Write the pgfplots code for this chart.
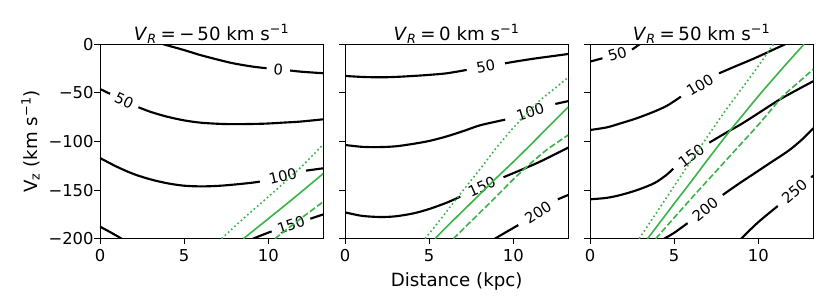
\documentclass[border=0pt]{standalone}
\usepackage{fontspec}
\setmainfont{DejaVu Sans}
\usepackage{pgfplots}
\pgfplotsset{compat=1.18}
\definecolor{cgreen}{RGB}{60,179,75}
\pgfplotsset{
  panel/.style={
    scale only axis, width=136.2pt, height=118.6pt,
    xmin=0, xmax=13.27, ymin=-200, ymax=0,
    xtick={0,5,10}, xticklabels={0,5,10},
    ytick={-200,-150,-100,-50,0},
    tick align=outside, major tick length=3.4pt,
    xtick pos=left, ytick pos=left,
    every tick/.style={black, line width=0.6pt},
    axis line style={line width=0.6pt},
    ticklabel style={font=\fontsize{10}{12}\selectfont},
    xticklabel style={anchor=base, inner sep=0pt, yshift=-10.6pt},
    yticklabel style={anchor=east, inner sep=0pt, xshift=-0.3pt},
    title style={at={(0.5,1)}, anchor=base, yshift=-3.5pt, inner sep=0pt, font=\fontsize{11.1}{13}\selectfont},
  },
  contour/.style={black, line width=1.3pt, smooth},
  gsolid/.style={cgreen, line width=1pt, smooth},
  gdash/.style={cgreen, line width=1pt, smooth, dash pattern=on 3.8pt off 1.6pt},
  gdot/.style={cgreen, line width=1pt, smooth, dash pattern=on 1pt off 1.65pt},
}
\newcommand{\clab}[3]{\addplot[draw=none] coordinates {#1 #2} node[pos=0.5, sloped, font=\fontsize{9}{10}\selectfont, inner sep=0pt]{#3};}
\begin{document}
\begin{tikzpicture}
\useasboundingbox (-61pt,-40.44pt) rectangle (445.3pt,145.6pt);
% ---------------- Panel 1
\begin{axis}[panel, at={(0pt,0pt)}, anchor=south west,
  yticklabels={−200,−150,−100,−50,0},
  title={\textit{V}\textsubscript{\textit{R}}\hspace{0.2em}=\hspace{0.2em}−\hspace{0.15em}50 km s\textsuperscript{−1}},
  ylabel={V\textsubscript{z} (km s\textsuperscript{−1})},
  ylabel style={at={(axis description cs:-0.282,0.5)}, anchor=base, inner sep=0pt, font=\fontsize{11.1}{13}\selectfont},
]
\addplot[contour] coordinates {(3.76,0) (5,-6) (5.94,-11) (7,-15.8) (7.92,-19.6) (9,-22.8) (9.9,-24.7)};
\clab{(9.9,-24.7)}{(11.3,-27)}{0}
\addplot[contour] coordinates {(11.3,-27) (12,-28.3) (13.27,-29.8)};
\addplot[contour] coordinates {(0,-46) (0.6,-51)};
\clab{(0.6,-51)}{(2.28,-64.8)}{50}
\addplot[contour] coordinates {(2.28,-64.8) (3,-69.5) (3.96,-74.4) (5,-78.3) (5.94,-80.6) (7,-81.8) (7.92,-82.2) (9,-82) (9.9,-81.6) (11,-80.5) (11.88,-79.6) (13.27,-77.2)};
\addplot[contour] coordinates {(0,-117) (1,-126) (2,-133.5) (3,-139) (4,-143) (5,-145.5) (6,-146.2) (7,-145.7) (8,-144.3) (9,-142.5) (9.5,-141.3)};
\clab{(9.5,-141.3)}{(12.24,-130)}{100}
\addplot[contour] coordinates {(12.24,-130) (13.27,-127.6)};
\addplot[contour] coordinates {(0,-187.6) (0.6,-193.2) (1.29,-200)};
\addplot[contour] coordinates {(9.1,-200) (9.7,-195.8) (10.2,-192.5)};
\clab{(10.2,-192.5)}{(12.5,-179.5)}{150}
\addplot[contour] coordinates {(12.5,-179.5) (13.27,-175)};
\addplot[gdot] coordinates {(7.23,-200) (8,-187.5) (9,-172) (10,-157) (11,-141.5) (12,-125.5) (13.27,-103)};
\addplot[gsolid] coordinates {(8.52,-200) (10,-179.5) (11.5,-158.5) (13.27,-133)};
\addplot[gdash] coordinates {(10.4,-200) (11.8,-181) (13.27,-162)};
\end{axis}
% ---------------- Panel 2
\begin{axis}[panel, at={(149.45pt,0pt)}, anchor=south west,
  yticklabels={},
  title={\textit{V}\textsubscript{\textit{R}}\hspace{0.2em}=\hspace{0.2em}0 km s\textsuperscript{−1}},
  xlabel={Distance (kpc)},
  xlabel style={at={(axis description cs:0.5,-0.248)}, anchor=base, inner sep=0pt, font=\fontsize{11.1}{13}\selectfont},
]
\addplot[contour] coordinates {(0,-32.6) (1,-33.6) (2.08,-34) (3,-33.6) (4.06,-32.6) (5,-31.5) (6.04,-29.9) (7.23,-26.4)};
\clab{(7.23,-26.4)}{(9.51,-19.6)}{50}
\addplot[contour] coordinates {(9.51,-19.6) (10.4,-17) (11.39,-14.4) (12.3,-12.3) (13.27,-10)};
\addplot[contour] coordinates {(0,-103.6) (1,-105.5) (2,-105.8) (3,-105) (4,-102.6) (5,-99.5) (6,-95) (7,-89.5) (8,-83.5) (9,-79.5) (9.52,-77.5)};
\clab{(9.52,-77.5)}{(12.5,-61.4)}{100}
\addplot[contour] coordinates {(12.5,-61.4) (13.27,-58.5)};
\addplot[contour] coordinates {(0,-172.9) (1,-176.5) (2.08,-177.7) (3,-177) (4.06,-174) (5,-169.5) (6.04,-163) (6.85,-156.8)};
\clab{(6.85,-156.8)}{(9.42,-136.8)}{150}
\addplot[contour] coordinates {(9.42,-136.8) (10.5,-129) (11.5,-121.5) (12.5,-113) (13.27,-106.3)};
\addplot[contour] coordinates {(8.91,-200) (9.5,-194) (10.3,-186)};
\clab{(10.3,-186)}{(12.65,-159.5)}{200}
\addplot[contour] coordinates {(12.65,-159.5) (13.27,-155)};
\addplot[gdot] coordinates {(4.76,-200) (5.5,-184) (6.85,-154) (8,-129) (9,-106.5) (10,-86) (11,-68) (11.6,-57.5) (12.5,-45) (13.27,-34)};
\addplot[gsolid] coordinates {(5.35,-200) (6,-188.5) (7,-171.5) (8,-154.5) (9,-137.5) (10,-121) (11,-104) (12,-86.5) (13.27,-64.5)};
\addplot[gdash] coordinates {(6.44,-200) (7,-190.5) (8,-173.5) (9,-156.5) (10,-139) (11,-123) (12,-108.5) (13.27,-93.3)};
\end{axis}
% ---------------- Panel 3
\begin{axis}[panel, at={(298.9pt,0pt)}, anchor=south west,
  yticklabels={},
  title={\textit{V}\textsubscript{\textit{R}}\hspace{0.2em}=\hspace{0.2em}50 km s\textsuperscript{−1}},
]
\addplot[contour] coordinates {(0,-17.9) (0.74,-14.4)};
\clab{(0.74,-14.4)}{(2.5,-5.5)}{50}
\addplot[contour] coordinates {(2.5,-5.5) (2.95,0)};
\addplot[contour] coordinates {(0,-88.2) (1,-85.5) (1.83,-81.3) (2.8,-76) (3.81,-69.3) (4.6,-63) (5.4,-53.9)};
\clab{(5.4,-53.9)}{(7.67,-29.9)}{100}
\addplot[contour] coordinates {(7.67,-29.9) (8.6,-23) (9.5,-16.5) (10.15,-11.5) (10.9,-5.5) (11.6,0)};
\addplot[contour] coordinates {(0,-159.5) (1,-158) (1.83,-155) (2.8,-150) (3.81,-143) (4.5,-135) (4.95,-128)};
\clab{(4.95,-128)}{(7.09,-101.2)}{150}
\addplot[contour] coordinates {(7.09,-101.2) (8.19,-90) (9,-82) (10,-71) (11.23,-57.3) (12.3,-47) (13.27,-38)};
\addplot[contour] coordinates {(4.41,-200) (5,-194) (5.8,-184)};
\clab{(5.8,-184)}{(7.89,-155)}{200}
\addplot[contour] coordinates {(7.89,-155) (8.8,-144) (9.8,-132.5) (10.8,-121) (11.8,-109.5) (12.6,-98) (13.27,-86.4)};
\addplot[contour] coordinates {(8.98,-200) (10,-183) (11.16,-166.4)};
\clab{(11.16,-166.4)}{(13.14,-136.8)}{250}
\addplot[contour] coordinates {(13.14,-136.8) (13.27,-135.3)};
\addplot[gdot] coordinates {(2.92,-200) (4,-172) (5,-146) (6,-120) (7,-94.5) (8,-69.5) (9,-46) (10,-22.5) (10.9,0)};
\addplot[gsolid] coordinates {(3.42,-200) (5,-164) (6,-141.5) (7,-118.5) (8.27,-90) (9,-74.5) (10.15,-50.4) (11.5,-23.5) (12.72,0)};
\addplot[gdash] coordinates {(3.91,-200) (5,-178.5) (6,-159) (7,-140) (8,-121) (9,-102) (10,-83) (11,-62.5) (11.53,-52.2) (12.5,-37.5) (13.27,-25.7)};
\end{axis}
\end{tikzpicture}
\end{document}
